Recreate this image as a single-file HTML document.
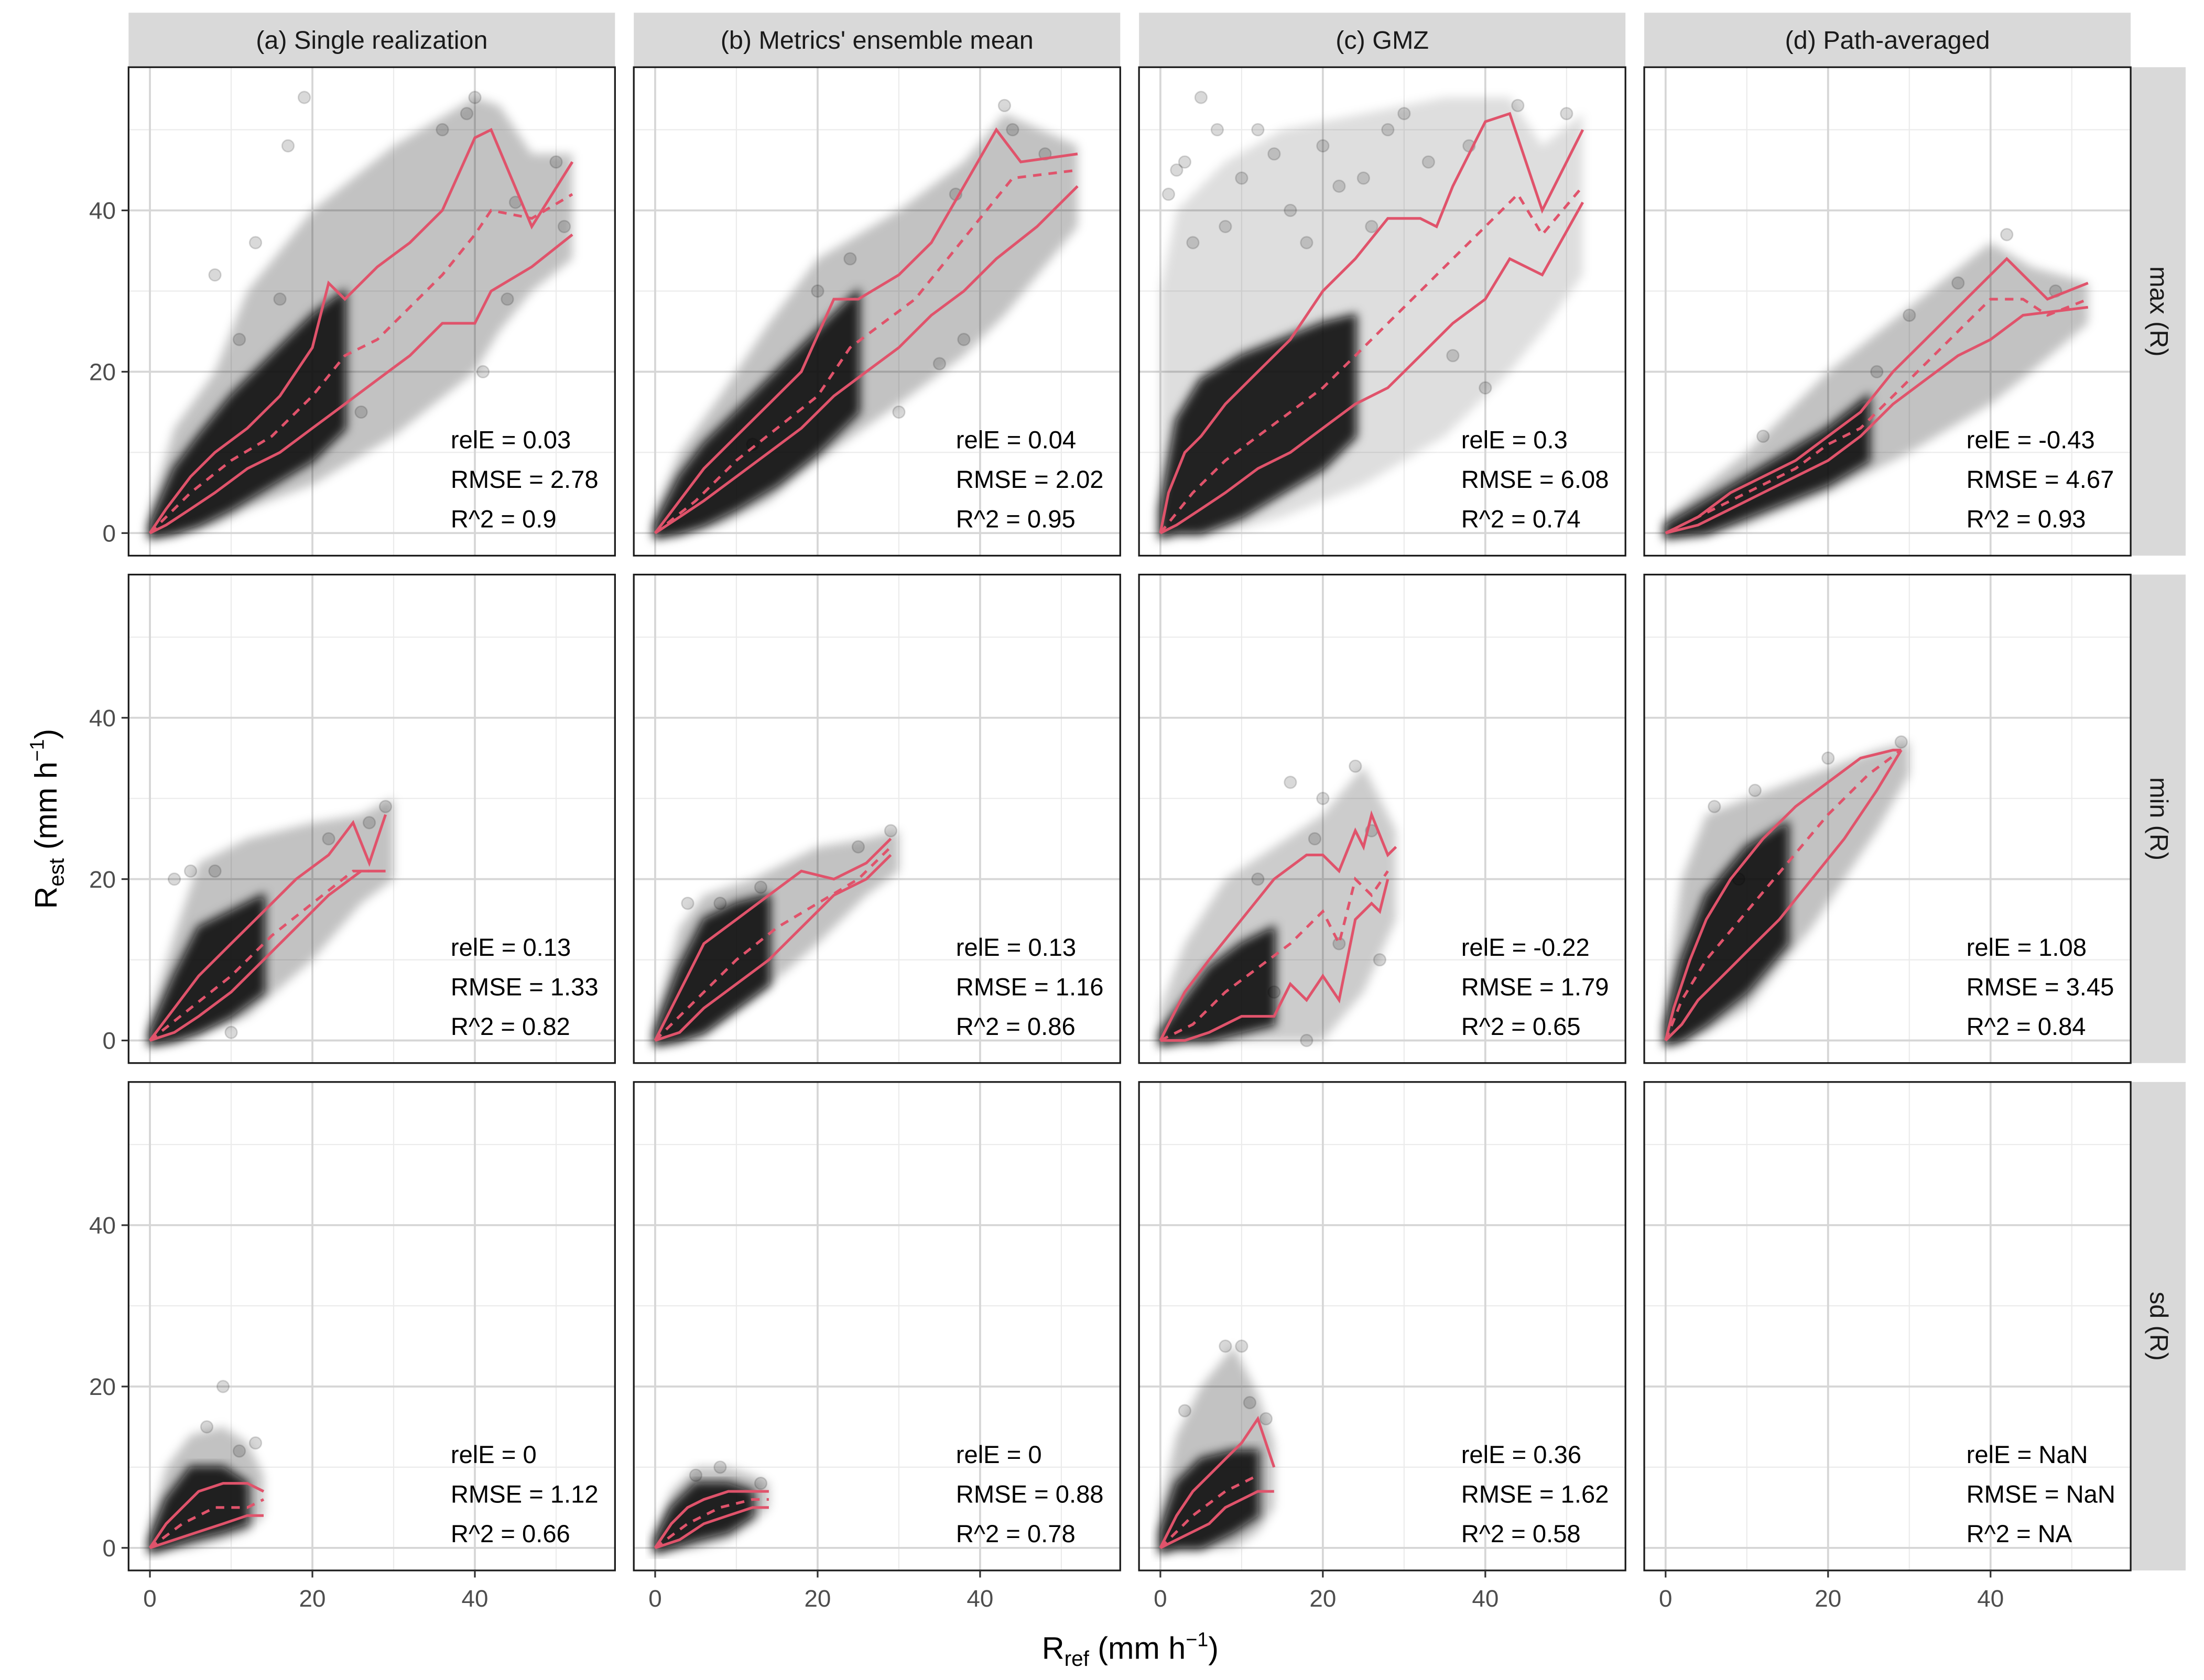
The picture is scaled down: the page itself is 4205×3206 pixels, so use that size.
<!DOCTYPE html>
<html><head><meta charset="utf-8"><title>Rest vs Rref</title>
<style>html,body{margin:0;padding:0;background:#fff}svg{display:block}text{font-family:"Liberation Sans",Arial,sans-serif}</style>
</head><body>
<svg id="chart" xmlns="http://www.w3.org/2000/svg" width="4205" height="3206" viewBox="0 0 1560 1190" preserveAspectRatio="none">
<defs><filter id="soft" x="-10%" y="-10%" width="120%" height="120%"><feGaussianBlur stdDeviation="3.5"/></filter></defs>
</svg>
<script>
// ---- data ----
const colTitles = ["(a) Single realization","(b) Metrics' ensemble mean","(c) GMZ","(d) Path-averaged"];
const rowTitles = ["max (R)","min (R)","sd (R)"];
const xTicks = [0,20,40];
const yTicks = [0,20,40];
const minorTicks = [10,30,50];
const relE = [["0.03","0.04","0.3","-0.43"],["0.13","0.13","-0.22","1.08"],["0","0","0.36","NaN"]];
const rmse = [["2.78","2.02","6.08","4.67"],["1.33","1.16","1.79","3.45"],["1.12","0.88","1.62","NaN"]];
const r2 = [["0.9","0.95","0.74","0.93"],["0.82","0.86","0.65","0.84"],["0.66","0.78","0.58","NA"]];
const upperQ = [
 [[[0,0],[2,3],[5,7],[8,10],[12,13],[16,17],[20,23],[22,31],[24,29],[28,33],[32,36],[36,40],[40,49],[42,50],[47,38],[52,46]],
  [[0,0],[3,4],[6,8],[10,12],[14,16],[18,20],[22,29],[25,29],[30,32],[34,36],[38,43],[42,50],[45,46],[52,47]],
  [[0,0],[1,5],[3,10],[5,12],[8,16],[12,20],[16,24],[20,30],[24,34],[28,39],[32,39],[34,38],[36,43],[40,51],[43,52],[47,40],[52,50]],
  [[0,0],[4,2],[8,5],[12,7],[16,9],[20,12],[24,15],[28,20],[32,24],[36,28],[40,32],[42,34],[47,29],[52,31]]],
 [[[0,0],[3,4],[6,8],[10,12],[14,16],[18,20],[22,23],[25,27],[27,22],[29,28]],
  [[0,0],[2,4],[4,8],[6,12],[10,15],[14,18],[18,21],[22,20],[26,22],[29,25]],
  [[0,0],[3,6],[6,10],[10,15],[14,20],[18,23],[20,23],[22,21],[24,26],[25,24],[26,28],[28,23],[29,24]],
  [[0,0],[1,4],[3,10],[5,15],[8,20],[12,25],[16,29],[20,32],[24,35],[28,36],[29,36]]],
 [[[0,0],[2,3],[4,5],[6,7],[9,8],[12,8],[14,7]],
  [[0,0],[2,3],[4,5],[6,6],[9,7],[12,7],[14,7]],
  [[0,0],[2,4],[4,7],[6,9],[8,11],[10,13],[12,16],[14,10]],
  []]
];
const lowerQ = [
 [[[0,0],[2,1],[5,3],[8,5],[12,8],[16,10],[20,13],[24,16],[28,19],[32,22],[36,26],[40,26],[42,30],[47,33],[52,37]],
  [[0,0],[3,2],[6,4],[10,7],[14,10],[18,13],[22,17],[26,20],[30,23],[34,27],[38,30],[42,34],[47,38],[52,43]],
  [[0,0],[2,1],[5,3],[8,5],[12,8],[16,10],[20,13],[24,16],[28,18],[32,22],[36,26],[40,29],[43,34],[47,32],[52,41]],
  [[0,0],[4,1],[8,3],[12,5],[16,7],[20,9],[24,12],[28,16],[32,19],[36,22],[40,24],[44,27],[52,28]]],
 [[[0,0],[3,1],[6,3],[10,6],[14,10],[18,14],[22,18],[26,21],[29,21]],
  [[0,0],[3,1],[6,4],[10,7],[14,10],[18,14],[22,18],[26,20],[29,23]],
  [[0,0],[3,0],[6,1],[10,3],[14,3],[16,7],[18,5],[20,8],[22,5],[24,15],[26,17],[27,16],[28,20]],
  [[0,0],[2,2],[4,5],[7,8],[10,11],[14,15],[18,20],[22,25],[26,31],[29,36]]],
 [[[0,0],[3,1],[6,2],[9,3],[12,4],[14,4]],
  [[0,0],[3,1],[6,3],[9,4],[12,5],[14,5]],
  [[0,0],[2,1],[4,2],[6,3],[8,5],[10,6],[12,7],[14,7]],
  []]
];
const medianQ = [
 [[[0,0],[5,5],[10,9],[15,12],[20,17],[24,22],[28,24],[32,28],[36,32],[40,37],[42,40],[47,39],[52,42]],
  [[0,0],[5,4],[10,9],[15,13],[20,17],[24,23],[28,26],[32,29],[36,34],[40,39],[44,44],[52,45]],
  [[0,0],[4,5],[8,9],[12,12],[16,15],[20,18],[24,22],[28,26],[32,30],[36,34],[40,38],[44,42],[47,37],[52,43]],
  [[0,0],[8,4],[16,8],[20,11],[24,13],[28,17],[32,21],[36,25],[40,29],[44,29],[47,27],[52,29]]],
 [[[0,0],[5,4],[10,8],[15,13],[20,17],[25,21],[27,21]],
  [[0,0],[5,5],[10,10],[15,14],[20,17],[25,20],[29,24]],
  [[0,0],[4,2],[8,6],[12,9],[16,12],[20,16],[22,12],[24,20],[26,18],[28,21]],
  [[0,0],[2,5],[5,10],[10,16],[15,22],[20,28],[25,33],[29,36]]],
 [[[0,0],[4,3],[8,5],[12,5],[14,6]],
  [[0,0],[4,3],[8,5],[12,6],[14,6]],
  [[0,0],[4,4],[8,7],[12,9]],
  []]
];
const coreCloud = [
 [[[0,-0.5,1],[3,0,8],[6,1,12],[10,3,17],[15,6,22],[20,9,27],[24,13,30]],
  [[0,-0.5,1],[3,0,7],[6,1,11],[10,3,15],[15,6,20],[20,10,25],[25,15,30]],
  [[0,-0.5,3],[2,0,14],[5,0,19],[10,2,22],[15,5,24],[20,8,26],[24,12,27]],
  [[0,-0.5,1],[5,0,4],[10,2,7],[15,4,10],[20,6,13],[25,9,17]]],
 [[[0,-0.5,1],[3,0,8],[6,1,14],[10,3,16],[14,6,18]],
  [[0,-0.5,1],[3,0,9],[6,1,15],[10,4,17],[14,7,18]],
  [[0,-0.5,1],[3,0,5],[6,0,9],[10,1,12],[14,2,14]],
  [[0,-0.5,2],[2,0,10],[5,2,18],[10,6,24],[15,12,27]]],
 [[[0,-0.5,1],[2,0,6],[5,1,10],[9,2,10],[12,3,8]],
  [[0,-0.5,1],[2,0,5],[5,1,8],[9,2,8],[12,4,7]],
  [[0,-0.5,2],[2,0,8],[5,0,11],[9,2,12],[12,4,12]],
  []]
];
const haloCloud = [
 [[[0,-0.5,3],[3,0,13],[8,1,20],[12,3,30],[20,6,40],[30,12,48],[40,20,54],[43,25,53],[47,30,47],[52,34,47]],
  [[0,-0.5,3],[3,0,10],[8,1,17],[14,4,26],[20,9,34],[30,16,40],[38,22,46],[43,27,52],[52,38,48]],
  [[0,-0.5,30],[2,0,40],[8,0,46],[15,2,50],[25,6,52],[35,12,54],[43,20,54],[47,25,48],[52,32,52]],
  [[0,-0.5,2],[5,0,6],[10,1,10],[15,3,15],[20,5,20],[30,10,28],[40,16,36],[45,20,33],[52,26,31]]],
 [[[0,-0.5,3],[3,0,13],[6,1,22],[12,3,25],[20,10,27],[26,17,28],[30,20,30]],
  [[0,-0.5,3],[3,0,14],[6,1,18],[12,5,20],[20,12,24],[26,18,25],[30,21,26]],
  [[0,-0.5,4],[3,-0.3,12],[8,0,20],[14,0,24],[20,0,28],[25,6,34],[29,15,26]],
  [[0,-0.5,5],[2,0,20],[5,1,28],[10,4,30],[18,14,33],[26,26,36],[30,33,37]]],
 [[[0,-0.5,3],[2,0,10],[5,0,14],[9,1,15],[12,2,13],[14,4,9]],
  [[0,-0.5,2],[2,0,7],[5,0,10],[9,1,10],[12,3,9],[14,5,8]],
  [[0,-0.5,5],[2,0,14],[5,0,20],[9,0,25],[12,2,19],[14,5,13]],
  []]
];
const haloOpacity = [[0.24,0.24,0.13,0.24],[0.24,0.24,0.2,0.24],[0.24,0.24,0.24,0]];
const outliers = [
 [[[19,54],[17,48],[36,50],[40,54],[45,41],[50,46],[51,38],[8,32],[13,36],[44,29],[26,15],[41,20],[11,24],[16,29],[39,52]],
  [[43,53],[48,47],[35,21],[38,24],[30,15],[12,11],[20,30],[24,34],[44,50],[37,42]],
  [[5,54],[1,42],[3,46],[12,50],[20,48],[30,52],[50,52],[36,22],[40,18],[8,38],[25,44],[18,36],[2,45],[7,50],[14,47],[22,43],[28,50],[33,46],[44,53],[10,44],[16,40],[4,36],[26,38],[38,48]],
  [[42,37],[48,30],[36,31],[30,27],[26,20],[12,12]]],
 [[[29,29],[27,27],[22,25],[5,21],[3,20],[8,21],[10,1]],
  [[29,26],[25,24],[8,17],[4,17],[13,19]],
  [[16,32],[24,34],[20,30],[18,0],[22,12],[27,10],[14,6],[12,20],[19,25],[26,26]],
  [[29,37],[6,29],[11,31],[20,35],[9,20]]],
 [[[9,20],[7,15],[13,13],[11,12]],
  [[8,10],[5,9],[13,8]],
  [[8,25],[10,25],[3,17],[11,18],[13,16]],
  []]
];

// ---- layout ----
const NS = "http://www.w3.org/2000/svg";
const svg = document.getElementById("chart");
const colX = [91,448.6,806.2,1163.8], panelW = 344.3;
const rowY = [47.6,407,766.4], panelH = 346;
const XMIN = -2.63, XMAX = 57.25, YMIN = -2.8, YMAX = 57.75;
const RED = "#e0536b";
function sx(c, v){ return colX[c] + (v - XMIN) / (XMAX - XMIN) * panelW; }
function sy(r, v){ return rowY[r] + panelH - (v - YMIN) / (YMAX - YMIN) * panelH; }
function mk(tag, attrs, parent){
  const e = document.createElementNS(NS, tag);
  for (const k in attrs) e.setAttribute(k, attrs[k]);
  (parent || svg).appendChild(e);
  return e;
}
function txt(s, attrs, parent){ const t = mk("text", attrs, parent); t.textContent = s; return t; }

colTitles.forEach((t, c) => {
  const g = mk("g", {});
  
  
  mk("rect", {x: colX[c], y: 9, width: panelW, height: 38, fill: "#d9d9d9"}, g);
  txt(t, {x: colX[c] + panelW/2, y: 34.5, "font-size": 18, "text-anchor": "middle", fill: "#1a1a1a"}, g);
});
rowTitles.forEach((t, r) => {
  const g = mk("g", {});
  
  
  mk("rect", {x: 1508.6, y: rowY[r], width: 38.4, height: panelH, fill: "#d9d9d9"}, g);
  const cx = 1528, cy = rowY[r] + panelH/2;
  txt(t, {x: cx, y: cy + 6, "font-size": 18, "text-anchor": "middle", fill: "#1a1a1a", transform: "rotate(90 " + cx + " " + (cy) + ")"}, g);
});

function envPath(r, c, env){
  let d = "";
  env.forEach((p, i) => { d += (i ? "L" : "M") + sx(c, p[0]).toFixed(1) + "," + sy(r, p[2]).toFixed(1); });
  for (let i = env.length - 1; i >= 0; i--) d += "L" + sx(c, env[i][0]).toFixed(1) + "," + sy(r, env[i][1]).toFixed(1);
  return d + "Z";
}
function linePath(r, c, pts){
  return pts.map((p, i) => (i ? "L" : "M") + sx(c, p[0]).toFixed(1) + "," + sy(r, p[1]).toFixed(1)).join("");
}

for (let r = 0; r < 3; r++) for (let c = 0; c < 4; c++) {
  const g = mk("g", {});
  
  
  const cid = "clip" + r + c;
  const cp = mk("clipPath", {id: cid}, g);
  mk("rect", {x: colX[c], y: rowY[r], width: panelW, height: panelH}, cp);
  minorTicks.forEach(v => {
    mk("line", {x1: sx(c, v), x2: sx(c, v), y1: rowY[r], y2: rowY[r] + panelH, stroke: "#ebebeb", "stroke-width": 0.8}, g);
    mk("line", {y1: sy(r, v), y2: sy(r, v), x1: colX[c], x2: colX[c] + panelW, stroke: "#ebebeb", "stroke-width": 0.8}, g);
  });
  xTicks.forEach(v => mk("line", {x1: sx(c, v), x2: sx(c, v), y1: rowY[r], y2: rowY[r] + panelH, stroke: "#d6d6d6", "stroke-width": 1.4}, g));
  yTicks.forEach(v => mk("line", {y1: sy(r, v), y2: sy(r, v), x1: colX[c], x2: colX[c] + panelW, stroke: "#d6d6d6", "stroke-width": 1.4}, g));
  const data = mk("g", {"clip-path": "url(#" + cid + ")"}, g);
  if (haloCloud[r][c].length) {
    const h = mk("path", {d: envPath(r, c, haloCloud[r][c]), fill: "#000", "fill-opacity": haloOpacity[r][c], filter: "url(#soft)"}, data);
    
    
    const k = mk("path", {d: envPath(r, c, coreCloud[r][c]), fill: "#0a0a0a", "fill-opacity": 0.9, stroke: "#0a0a0a", "stroke-opacity": 0.5, "stroke-width": 4, "stroke-linejoin": "round", filter: "url(#soft)"}, data);
    
    
  }
  outliers[r][c].forEach(p => {
    const pt = mk("circle", {cx: sx(c, p[0]), cy: sy(r, p[1]), r: 4.2, fill: "#000", "fill-opacity": 0.15, stroke: "#000", "stroke-opacity": 0.15}, data);
    
    
  });
  if (upperQ[r][c].length) {
    const u = mk("path", {d: linePath(r, c, upperQ[r][c]), fill: "none", stroke: RED, "stroke-width": 1.9}, data);
    
    
    const l = mk("path", {d: linePath(r, c, lowerQ[r][c]), fill: "none", stroke: RED, "stroke-width": 1.9}, data);
    
    
    const m = mk("path", {d: linePath(r, c, medianQ[r][c]), fill: "none", stroke: RED, "stroke-width": 1.9, "stroke-dasharray": "6,5"}, data);
    
    
  }
  mk("rect", {x: colX[c], y: rowY[r], width: panelW, height: panelH, fill: "none", stroke: "#1a1a1a", "stroke-width": 1.2}, g);
  const tx = colX[c] + 228;
  const t1 = txt("relE = " + relE[r][c], {x: tx, y: rowY[r] + 270, "font-size": 17.5, fill: "#000"}, g);
  
  
  const t2 = txt("RMSE = " + rmse[r][c], {x: tx, y: rowY[r] + 298, "font-size": 17.5, fill: "#000"}, g);
  
  
  const t3 = txt("R^2 = " + r2[r][c], {x: tx, y: rowY[r] + 326, "font-size": 17.5, fill: "#000"}, g);
  
  
}
for (let r = 0; r < 3; r++) yTicks.forEach(v => {
  mk("line", {x1: 86, x2: 91, y1: sy(r, v), y2: sy(r, v), stroke: "#333", "stroke-width": 1.2});
  const t = txt(String(v), {x: 82, y: sy(r, v) + 6, "font-size": 17, "text-anchor": "end", fill: "#4d4d4d"});
  
  
});
for (let c = 0; c < 4; c++) xTicks.forEach(v => {
  mk("line", {x1: sx(c, v), x2: sx(c, v), y1: 1112.4, y2: 1117.4, stroke: "#333", "stroke-width": 1.2});
  const t = txt(String(v), {x: sx(c, v), y: 1138, "font-size": 17, "text-anchor": "middle", fill: "#4d4d4d"});
  
  
});
</script>
<svg style="position:absolute;left:0;top:0;pointer-events:none" width="4205" height="3206" viewBox="0 0 1560 1190" preserveAspectRatio="none">
  <text x="800" y="1175" font-size="22" text-anchor="middle" fill="#000">R<tspan font-size="15" dy="5">ref</tspan><tspan dy="-5"> (mm h</tspan><tspan font-size="14" dy="-9">−1</tspan><tspan dy="9">)</tspan></text>
  <text x="0" y="0" font-size="22" text-anchor="middle" fill="#000" transform="translate(40 580) rotate(-90)">R<tspan font-size="15" dy="5">est</tspan><tspan dy="-5"> (mm h</tspan><tspan font-size="14" dy="-9">−1</tspan><tspan dy="9">)</tspan></text>
</svg>
</body></html>
